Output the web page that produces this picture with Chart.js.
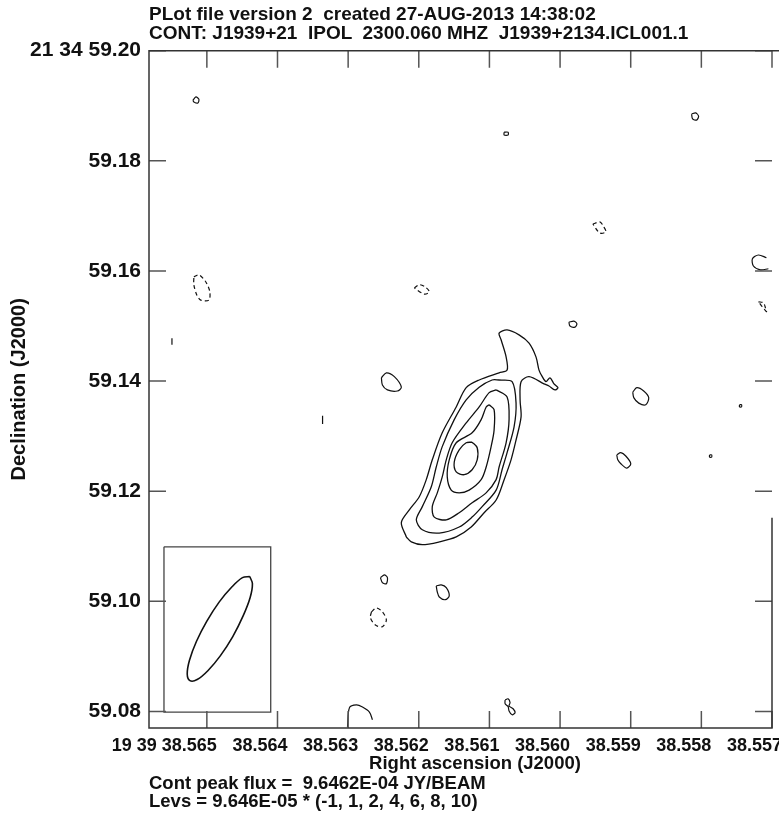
<!DOCTYPE html>
<html>
<head>
<meta charset="utf-8">
<title>J1939+21 IPOL contour map</title>
<script src="https://cdn.jsdelivr.net/npm/chart.js@4.4.0/dist/chart.umd.min.js"></script>
<style>
  html, body { margin: 0; padding: 0; background: #fff; }
  #wrap { position: relative; width: 779px; height: 829px; overflow: hidden; }
  #map { position: absolute; left: 0; top: 0; }
  .txt { position: absolute; font: bold 18.5px "Liberation Sans", Arial, sans-serif; line-height: 18px; white-space: pre; color: #111; }
  .head { font-size: 19px; }
</style>
</head>
<body>
<div id="wrap">
  <canvas id="map" width="779" height="829"></canvas>
  <div class="txt head" style="left:149px;top:5px">PLot file version 2  created 27-AUG-2013 14:38:02</div>
  <div class="txt head" style="left:149px;top:24px">CONT: J1939+21  IPOL  2300.060 MHZ  J1939+2134.ICL001.1</div>
  <div class="txt" style="left:475px;top:754px;transform:translateX(-50%)">Right ascension (J2000)</div>
  <div class="txt" style="left:149px;top:774px">Cont peak flux =  9.6462E-04 JY/BEAM</div>
  <div class="txt" style="left:149px;top:792px">Levs = 9.646E-05 * (-1, 1, 2, 4, 6, 8, 10)</div>
</div>
<script>
'use strict';

// osie: RA w sekundach (19 39 38.5xx), Dec w sekundach luku (21 34 59.xx)
var raMin = 38.557, raMax = 38.565819;
var decMin = 59.0770, decMax = 59.20;
var xTickValues = [38.565, 38.564, 38.563, 38.562, 38.561, 38.560, 38.559, 38.558, 38.557];
var xTickLabels = ['19 39 38.565', '38.564', '38.563', '38.562', '38.561', '38.560', '38.559', '38.558', '38.557'];
var yTickValues = [59.08, 59.10, 59.12, 59.14, 59.16, 59.18, 59.20];
var yTickLabels = ['59.08', '59.10', '59.12', '59.14', '59.16', '59.18', '21 34 59.20'];

// kontury zrodla [RA, Dec] - poziomy 1, 2, 4, 6, 8
var contourLev1 = [[38.562176,59.1117],[38.562247,59.1143],[38.562134,59.1166],[38.561993,59.1190],[38.561894,59.1221],[38.561809,59.1257],[38.561668,59.1306],[38.561470,59.1353],[38.561329,59.1388],[38.561145,59.1402],[38.560863,59.1415],[38.560750,59.1420],[38.560764,59.1444],[38.560835,59.1475],[38.560863,59.1487],[38.560750,59.1493],[38.560581,59.1484],[38.560439,59.1469],[38.560341,59.1444],[38.560298,59.1420],[38.560256,59.1409],[38.560199,59.1399],[38.560143,59.1406],[38.560086,59.1395],[38.560030,59.1388],[38.560072,59.1384],[38.560157,59.1391],[38.560228,59.1395],[38.560439,59.1408],[38.560552,59.1399],[38.560566,59.1366],[38.560552,59.1335],[38.560623,59.1293],[38.560694,59.1257],[38.560792,59.1221],[38.560905,59.1184],[38.561075,59.1161],[38.561258,59.1135],[38.561470,59.1117],[38.561710,59.1108],[38.561950,59.1103],[38.562106,59.1108]];
var contourLev2 = [[38.560863,59.1402],[38.560679,59.1399],[38.560623,59.1360],[38.560651,59.1317],[38.560750,59.1270],[38.560821,59.1239],[38.560905,59.1202],[38.561103,59.1172],[38.561245,59.1153],[38.561428,59.1135],[38.561710,59.1124],[38.561950,59.1130],[38.562035,59.1148],[38.561950,59.1172],[38.561823,59.1208],[38.561753,59.1244],[38.561668,59.1281],[38.561498,59.1330],[38.561329,59.1366],[38.561145,59.1389],[38.560962,59.1402]];
var contourLev4 = [[38.560905,59.1384],[38.560750,59.1371],[38.560722,59.1330],[38.560764,59.1288],[38.560863,59.1244],[38.560905,59.1221],[38.561047,59.1197],[38.561245,59.1179],[38.561428,59.1161],[38.561611,59.1148],[38.561781,59.1153],[38.561809,59.1172],[38.561738,59.1197],[38.561668,59.1226],[38.561611,59.1257],[38.561527,59.1288],[38.561329,59.1324],[38.561145,59.1353],[38.561004,59.1379]];
var contourLev6 = [[38.561004,59.1357],[38.560934,59.1348],[38.560934,59.1311],[38.560976,59.1281],[38.561046,59.1244],[38.561117,59.1221],[38.561287,59.1202],[38.561428,59.1197],[38.561541,59.1202],[38.561597,59.1226],[38.561569,59.1257],[38.561470,59.1288],[38.561245,59.1306],[38.561117,59.1330],[38.561046,59.1353]];
var contourLev8 = [[38.561245,59.1289],[38.561173,59.1279],[38.561173,59.1257],[38.561245,59.1239],[38.561357,59.1230],[38.561470,59.1235],[38.561498,59.1253],[38.561428,59.1275],[38.561329,59.1288]];

// male kontury dodatnie (zamkniete)
var blobsPos = [
  [[38.565198,59.1910],[38.565155,59.1916],[38.565113,59.1912],[38.565127,59.1905],[38.565184,59.1907]],
  [[38.560792,59.1852],[38.560736,59.1852],[38.560736,59.1847],[38.560792,59.1847]],
  [[38.558138,59.1885],[38.558081,59.1887],[38.558039,59.1881],[38.558067,59.1874],[38.558124,59.1876]],
  [[38.562529,59.1406],[38.562459,59.1415],[38.562346,59.1408],[38.562247,59.1389],[38.562303,59.1382],[38.562444,59.1384],[38.562515,59.1393]],
  [[38.559875,59.1507],[38.559804,59.1509],[38.559762,59.1504],[38.559790,59.1498],[38.559860,59.1500]],
  [[38.558971,59.1380],[38.558914,59.1388],[38.558816,59.1382],[38.558745,59.1370],[38.558787,59.1357],[38.558886,59.1360],[38.558957,59.1370]],
  [[38.559197,59.1266],[38.559140,59.1270],[38.559070,59.1264],[38.558999,59.1250],[38.559056,59.1242],[38.559140,59.1250],[38.559183,59.1257]],
  [[38.557460,59.1357],[38.557432,59.1357],[38.557432,59.1353],[38.557460,59.1353]],
  [[38.557884,59.1266],[38.557855,59.1266],[38.557855,59.1262],[38.557884,59.1262]],
  [[38.562543,59.1043],[38.562487,59.1048],[38.562444,59.1043],[38.562459,59.1032],[38.562515,59.1034]],
  [[38.561753,59.1028],[38.561682,59.1030],[38.561611,59.1025],[38.561569,59.1010],[38.561625,59.1003],[38.561710,59.1008],[38.561738,59.1017]],
  [[38.560778,59.0821],[38.560736,59.0823],[38.560708,59.0816],[38.560722,59.0810],[38.560665,59.0805],[38.560637,59.0798],[38.560679,59.0794],[38.560722,59.0801],[38.560736,59.0809],[38.560778,59.0814]]
];
// otwarte fragmenty konturow dodatnich
var arcsPos = [
  [[38.557079,59.1624],[38.557192,59.1629],[38.557277,59.1622],[38.557263,59.1609],[38.557164,59.1602],[38.557051,59.1604]],
  [[38.563009,59.0772],[38.562981,59.0807],[38.562882,59.0812],[38.562797,59.0808],[38.562699,59.0799],[38.562656,59.0785]],
  [[38.565494,59.1478],[38.565494,59.1466]],
  [[38.563362,59.1337],[38.563362,59.1322]]
];
// kontury ujemne (-1) - linia przerywana
var blobsNeg = [
  [[38.565184,59.1589],[38.565113,59.1593],[38.565014,59.1580],[38.564958,59.1562],[38.564972,59.1547],[38.565085,59.1547],[38.565141,59.1556],[38.565184,59.1575]],
  [[38.562063,59.1569],[38.561993,59.1575],[38.561908,59.1571],[38.561851,59.1562],[38.561922,59.1558]],
  [[38.559536,59.1685],[38.559437,59.1689],[38.559380,59.1680],[38.559352,59.1671],[38.559437,59.1669]],
  [[38.557192,59.1544],[38.557121,59.1542],[38.557093,59.1533],[38.557079,59.1526]],
  [[38.562670,59.0981],[38.562600,59.0988],[38.562515,59.0981],[38.562459,59.0966],[38.562515,59.0954],[38.562614,59.0957],[38.562685,59.0970]]
];
// wiazka (beam) w ramce w lewym dolnym rogu
var beamEllipse = [[38.564393,59.1045],[38.564355,59.1032],[38.564387,59.1007],[38.564485,59.0974],[38.564633,59.0936],[38.564810,59.0901],[38.564986,59.0874],[38.565137,59.0858],[38.565240,59.0856],[38.565278,59.0868],[38.565246,59.0893],[38.565148,59.0927],[38.565000,59.0964],[38.564824,59.0999],[38.564647,59.1026],[38.564496,59.1043]];
var beamBox = [[38.565607,59.1099],[38.564096,59.1099],[38.564096,59.0799],[38.565607,59.0799]];

function toXY(pts, closed) {
  var out = pts.map(function (p) { return {x: p[0], y: p[1]}; });
  if (closed) out.push({x: pts[0][0], y: pts[0][1]});
  return out;
}
function line(pts, closed, opts) {
  var ds = {
    data: toXY(pts, closed),
    showLine: true,
    pointRadius: 0,
    borderColor: '#111',
    borderWidth: 1.3,
    tension: 0.3,
    fill: false
  };
  for (var k in (opts || {})) ds[k] = opts[k];
  return ds;
}

var datasets = [
  line(contourLev1, true),
  line(contourLev2, true),
  line(contourLev4, true),
  line(contourLev6, true),
  line(contourLev8, true)
];
blobsPos.forEach(function (b) { datasets.push(line(b, true, {borderWidth: 1.2})); });
arcsPos.forEach(function (b) { datasets.push(line(b, false, {borderWidth: 1.2})); });
blobsNeg.forEach(function (b) { datasets.push(line(b, true, {borderWidth: 1.2, borderDash: [4, 3]})); });
datasets.push(line(beamEllipse, true, {borderWidth: 1.6, tension: 0.35}));
datasets.push(line(beamBox, true, {borderColor: '#444', borderWidth: 1.3, tension: 0}));

// ramka i krotkie znaczniki do srodka (jak w AIPS)
var tickLen = 17;
var rightFrameFrom = 59.1152; // prawa krawedz widoczna tylko od tego miejsca w dol
var frameTicks = {
  id: 'frameTicks',
  afterDatasetsDraw: function (chart) {
    var ctx = chart.ctx, a = chart.chartArea, x = chart.scales.x, y = chart.scales.y;
    ctx.save();
    ctx.strokeStyle = '#555';
    ctx.lineWidth = 1.5;
    ctx.beginPath();
    x.ticks.forEach(function (t) {
      var p = x.getPixelForValue(t.value);
      ctx.moveTo(p, a.top); ctx.lineTo(p, a.top + tickLen);
      ctx.moveTo(p, a.bottom); ctx.lineTo(p, a.bottom - tickLen);
    });
    y.ticks.forEach(function (t) {
      var p = y.getPixelForValue(t.value);
      ctx.moveTo(a.left, p); ctx.lineTo(a.left + tickLen, p);
      ctx.moveTo(a.right, p); ctx.lineTo(a.right - tickLen, p);
    });
    ctx.stroke();
    ctx.strokeStyle = '#333';
    ctx.beginPath();
    ctx.moveTo(chart.width, a.top); ctx.lineTo(a.left, a.top);
    ctx.lineTo(a.left, a.bottom); ctx.lineTo(a.right, a.bottom);
    ctx.lineTo(a.right, y.getPixelForValue(rightFrameFrom));
    ctx.stroke();
    ctx.restore();
  }
};

Chart.defaults.font.family = '"Liberation Sans", Arial, sans-serif';
Chart.defaults.font.weight = 'bold';
Chart.defaults.font.size = 18;
Chart.defaults.color = '#111';

var chart = new Chart(document.getElementById('map').getContext('2d'), {
  type: 'scatter',
  data: { datasets: datasets },
  plugins: [frameTicks],
  options: {
    responsive: false,
    animation: false,
    events: [],
    layout: { padding: { top: 50.7, right: 6, bottom: 0, left: 0 } },
    plugins: { legend: { display: false }, tooltip: { enabled: false } },
    scales: {
      x: {
        type: 'linear',
        min: raMin,
        max: raMax,
        reverse: true,
        grid: { display: false, drawTicks: false },
        border: { display: false },
        afterBuildTicks: function (s) { s.ticks = xTickValues.map(function (v) { return {value: v}; }); },
        afterFit: function (s) { s.height = 101; },
        ticks: {
          padding: 7,
          align: 'end',
          labelOffset: 10,
          maxRotation: 0,
          autoSkip: false,
          callback: function (v, i) { return xTickLabels[i]; }
        }
      },
      y: {
        type: 'linear',
        min: decMin,
        max: decMax,
        grid: { display: false, drawTicks: false },
        border: { display: false },
        afterBuildTicks: function (s) { s.ticks = yTickValues.map(function (v) { return {value: v}; }); },
        afterFit: function (s) { s.width = 149; },
        title: { display: true, text: 'Declination (J2000)', font: { size: 20 }, padding: { top: 7, bottom: 0 } },
        ticks: {
          padding: 8,
          autoSkip: false,
          font: { size: 21 },
          callback: function (v, i) { return yTickLabels[i]; }
        }
      }
    }
  }
});
</script>
</body>
</html>
